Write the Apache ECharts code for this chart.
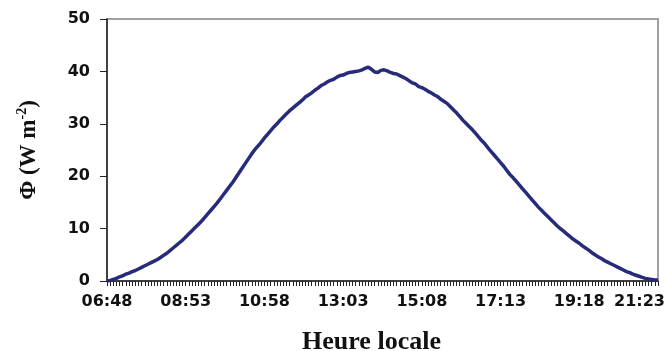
<!DOCTYPE html>
<html>
<head>
<meta charset="utf-8">
<script src="https://cdn.jsdelivr.net/npm/echarts@6/dist/echarts.min.js"></script>
<style>
html,body{margin:0;padding:0;background:#fff;}
#chart{width:668px;height:351px;}
</style>
</head>
<body>
<div id="chart"></div>
<script>
// Tick labels shown on the x axis (every 25th sample, 5-minute sampling)
var tickLabels = ["06:48","08:53","10:58","13:03","15:08","17:13","19:18","21:23"];
var startTime = "06:48";
var stepMinutes = 5;

// Flux values Φ (W m-2), one per 5-minute sample from 06:48 to 21:23
var fluxValues = [
  0.0, 0.1, 0.3, 0.5, 0.8, 1.0, 1.3, 1.5, 1.8, 2.0,
  2.3, 2.6, 2.9, 3.2, 3.5, 3.8, 4.1, 4.5, 4.9, 5.3,
  5.8, 6.3, 6.8, 7.3, 7.8, 8.4, 9.0, 9.6, 10.2, 10.8,
  11.4, 12.1, 12.8, 13.5, 14.2, 14.9, 15.7, 16.5, 17.3, 18.1,
  18.9, 19.8, 20.7, 21.6, 22.5, 23.4, 24.3, 25.1, 25.8, 26.5,
  27.3, 28.0, 28.7, 29.4, 30.0, 30.7, 31.3, 31.9, 32.5, 33.0,
  33.5, 34.0, 34.5, 35.1, 35.5, 35.9, 36.4, 36.8, 37.3, 37.6,
  38.0, 38.3, 38.5, 38.9, 39.2, 39.3, 39.6, 39.8, 39.9, 40.0,
  40.1, 40.3, 40.6, 40.8, 40.4, 39.9, 39.8, 40.2, 40.3, 40.1,
  39.8, 39.6, 39.5, 39.2, 38.9, 38.6, 38.2, 37.8, 37.6, 37.1,
  36.9, 36.6, 36.2, 35.9, 35.5, 35.2, 34.7, 34.3, 33.9, 33.3,
  32.7, 32.1, 31.4, 30.7, 30.1, 29.5, 28.9, 28.2, 27.5, 26.8,
  26.2, 25.4, 24.7, 24.0, 23.3, 22.6, 21.9, 21.1, 20.3, 19.7,
  19.0, 18.3, 17.6, 16.9, 16.2, 15.5, 14.8, 14.1, 13.5, 12.9,
  12.3, 11.7, 11.1, 10.5, 10.0, 9.5, 9.0, 8.5, 8.0, 7.6,
  7.2, 6.7, 6.3, 5.9, 5.4, 5.0, 4.6, 4.3, 3.9, 3.6,
  3.3, 3.0, 2.7, 2.4, 2.1, 1.8, 1.6, 1.3, 1.1, 0.9,
  0.7, 0.5, 0.4, 0.3, 0.2, 0.2
];

// Build the time categories (one per sample)
var categories = [];
(function(){
  var p = startTime.split(":");
  var m0 = parseInt(p[0],10)*60 + parseInt(p[1],10);
  for (var i = 0; i < fluxValues.length; i++) {
    var m = m0 + i*stepMinutes;
    var h = Math.floor(m/60), mm = m % 60;
    categories.push((h<10?"0":"")+h+":"+(mm<10?"0":"")+mm);
  }
})();

var chart = echarts.init(document.getElementById('chart'), null, {renderer:'canvas'});
var labelFont = {fontFamily:'DejaVu Sans', fontWeight:'bold', fontSize:16, color:'#111'};
var lastLabel = tickLabels[tickLabels.length-1];
chart.setOption({
  animation:false,
  backgroundColor:'#fff',
  grid:{left:107, right:10, top:19, bottom:70, containLabel:false, outerBoundsMode:'none',
        show:true, borderColor:'#a0a0a0', borderWidth:2, backgroundColor:'transparent'},
  xAxis:{
    type:'category',
    data:categories,
    boundaryGap:false,
    axisLine:{show:true, lineStyle:{color:'#222', width:1.5}},
    axisTick:{show:true, interval:0, length:5, lineStyle:{color:'#222', width:1}},
    axisLabel:Object.assign({
      interval:function(idx, val){ return tickLabels.indexOf(val) >= 0; },
      margin:13,
      hideOverlap:false,
      formatter:function(val){ return val === lastLabel ? '{l|'+val+'}' : val; },
      rich:{ l:Object.assign({padding:[0,37,0,0]}, labelFont) }
    }, labelFont),
    splitLine:{show:false},
    name:'Heure locale',
    nameLocation:'middle',
    nameGap:48,
    nameTextStyle:{fontFamily:'Liberation Serif', fontWeight:'bold', fontSize:26, color:'#111', padding:[0,22,0,0]}
  },
  yAxis:{
    type:'value',
    min:0, max:50, interval:10,
    axisLine:{show:true, lineStyle:{color:'#222', width:1.5}},
    axisTick:{show:true, length:7, lineStyle:{color:'#222', width:1}},
    axisLabel:Object.assign({margin:17}, labelFont),
    splitLine:{show:false},
    name:'{a|Φ (W m}{s|-2}{a|)}',
    nameLocation:'middle',
    nameRotate:90,
    nameGap:66,
    nameTextStyle:{
      fontFamily:'Liberation Serif', fontWeight:'bold', fontSize:23, color:'#111',
      rich:{
        a:{fontFamily:'Liberation Serif', fontWeight:'bold', fontSize:23, color:'#111', lineHeight:26, verticalAlign:'bottom'},
        s:{fontFamily:'Liberation Serif', fontWeight:'bold', fontSize:14, color:'#111', lineHeight:26, verticalAlign:'top'}
      }
    }
  },
  series:[{
    type:'line',
    data:fluxValues,
    showSymbol:false,
    symbol:'none',
    smooth:false,
    lineStyle:{color:'#262b7a', width:3.5},
    z:3
  }]
});
</script>
</body>
</html>
